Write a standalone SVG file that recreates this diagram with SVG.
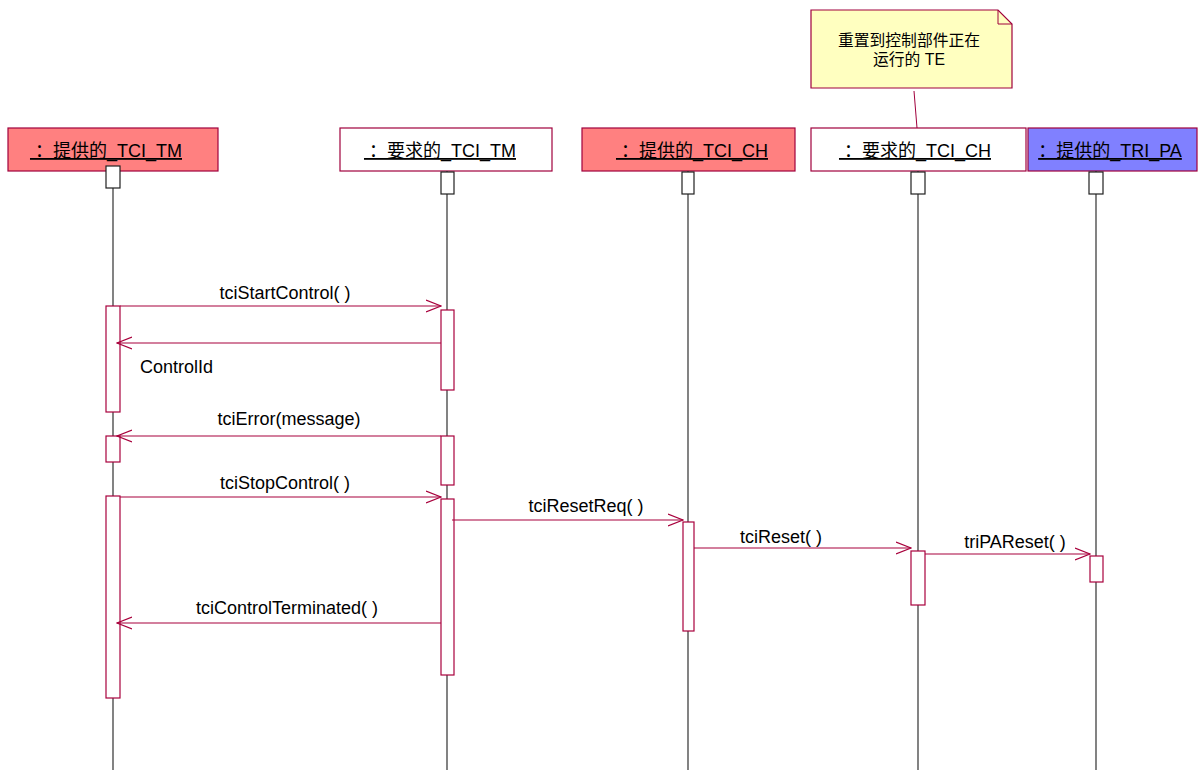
<svg xmlns="http://www.w3.org/2000/svg" width="1198" height="770" viewBox="0 0 1198 770">
<style>
text{font-family:"Liberation Sans","Noto Sans CJK SC",Arial,sans-serif;fill:#000}
.hdr{stroke:#a0003c;stroke-width:1.2}
.hl{font-size:18px;text-decoration:underline;text-anchor:middle}
.life{stroke:#303030;stroke-width:1.2;fill:none}
.head{fill:#fff;stroke:#202020;stroke-width:1.2}
.act{fill:#fff;stroke:#a8003c;stroke-width:1.2}
.msg{stroke:#a8003c;stroke-width:1.2;fill:none;marker-end:url(#arr)}
.lbl{font-size:18px;text-anchor:middle}
.note{fill:#ffffc0;stroke:#a0003c;stroke-width:1.2}
.nt{font-size:15.8px;text-anchor:middle}
</style>
<defs>
<marker id="arr" viewBox="0 0 16 14" refX="15" refY="7" markerWidth="16" markerHeight="14" markerUnits="userSpaceOnUse" orient="auto">
<path d="M0,1 L15,7 L0,13" fill="none" stroke="#a8003c" stroke-width="1.2"/>
</marker>
</defs>
<rect width="1198" height="770" fill="#fff"/>

<g id="note">
<path class="note" d="M811,10 H998 L1012,24 V88 H811 Z"/>
<path d="M998,10 V24 H1012" fill="none" stroke="#a0003c" stroke-width="1"/>
<text class="nt" x="909" y="46">重置到控制部件正在</text>
<text class="nt" x="909" y="65">运行的 TE</text>
</g>

<g id="lifeline1">
<rect class="hdr" x="8" y="128" width="210" height="43" fill="#ff8080"/>
<text class="hl" x="106" y="157">&#160;：提供的_TCI_TM</text>
<line class="life" x1="113" y1="188" x2="113" y2="770"/>
<rect class="head" x="106" y="166" width="14" height="22"/>
<rect class="act" x="106" y="306" width="14" height="106"/>
<rect class="act" x="106" y="436" width="14" height="26"/>
<rect class="act" x="106" y="496" width="14" height="202"/>
</g>

<g id="lifeline2">
<rect class="hdr" x="340" y="128" width="212" height="43" fill="#fff"/>
<text class="hl" x="440" y="157">&#160;：要求的_TCI_TM</text>
<line class="life" x1="447" y1="171" x2="447" y2="770"/>
<rect class="head" x="441" y="172" width="13" height="22"/>
<rect class="act" x="441" y="310" width="13" height="80"/>
<rect class="act" x="441" y="436" width="13" height="49"/>
<rect class="act" x="441" y="499" width="13" height="176"/>
</g>

<g id="lifeline3">
<rect class="hdr" x="582" y="128" width="213" height="43" fill="#ff8080"/>
<text class="hl" x="692" y="157">&#160;：提供的_TCI_CH</text>
<line class="life" x1="688" y1="171" x2="688" y2="770"/>
<rect class="head" x="682" y="172" width="12" height="22"/>
<rect class="act" x="683" y="522" width="11" height="109"/>
</g>

<g id="lifeline4">
<rect class="hdr" x="811" y="128" width="215" height="43" fill="#fff"/>
<text class="hl" x="915" y="157">&#160;：要求的_TCI_CH</text>
<line class="life" x1="918" y1="171" x2="918" y2="770"/>
<line x1="914" y1="91" x2="917" y2="128" stroke="#a0003c" stroke-width="1"/>
<rect class="head" x="911" y="172" width="14" height="22"/>
<rect class="act" x="911" y="551" width="14" height="54"/>
</g>

<g id="lifeline5">
<rect class="hdr" x="1028" y="128" width="169" height="43" fill="#8080ff"/>
<text class="hl" x="1110" y="157">：提供的_TRI_PA</text>
<line class="life" x1="1096" y1="171" x2="1096" y2="770"/>
<rect class="head" x="1089" y="172" width="14" height="22"/>
<rect class="act" x="1090" y="556" width="13" height="26"/>
</g>

<g id="connectors">
<line class="msg" x1="120" y1="306" x2="441" y2="306"/>
<text class="lbl" x="285" y="299">tciStartControl( )</text>
<line class="msg" x1="441" y1="343" x2="117" y2="343"/>
<text x="140" y="373" style="font-size:18px">ControlId</text>
<line class="msg" x1="441" y1="436" x2="117" y2="436"/>
<text class="lbl" x="289" y="425">tciError(message)</text>
<line class="msg" x1="120" y1="497" x2="441" y2="497"/>
<text class="lbl" x="285" y="489">tciStopControl( )</text>
<line class="msg" x1="452" y1="520" x2="683" y2="520"/>
<text class="lbl" x="586" y="512">tciResetReq( )</text>
<line class="msg" x1="694" y1="548" x2="911" y2="548"/>
<text class="lbl" x="781" y="543">tciReset( )</text>
<line class="msg" x1="925" y1="554" x2="1090" y2="554"/>
<text class="lbl" x="1015" y="548">triPAReset( )</text>
<line class="msg" x1="441" y1="623" x2="117" y2="623"/>
<text class="lbl" x="287" y="614">tciControlTerminated( )</text>
</g>
</svg>
